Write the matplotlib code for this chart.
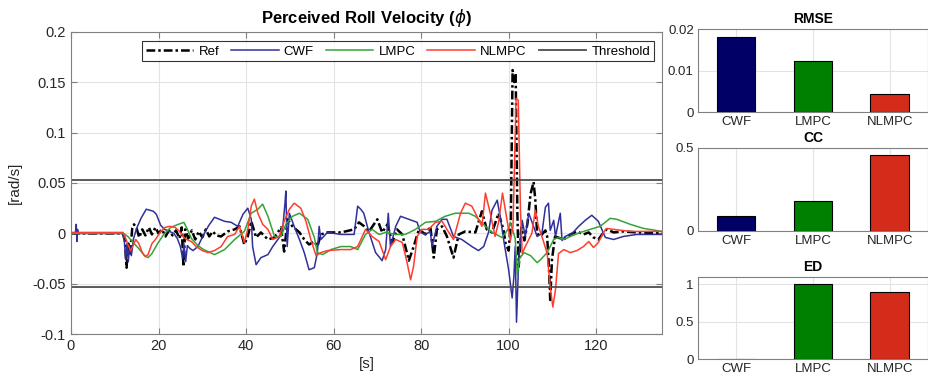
import numpy as np
import matplotlib
matplotlib.use("Agg")
import matplotlib.pyplot as plt

plt.rcParams['font.family'] = ['Liberation Sans', 'DejaVu Sans']

# time series: (time [s], value [rad/s])
ref_t = [0, 11.8, 12.3, 12.7, 13.1, 13.5, 14.0, 14.4, 15.0, 15.6, 16.3, 17.0, 17.8, 18.5, 19.3, 20.0,
         20.8, 21.6, 22.4, 23.2, 24.0, 24.8, 25.3, 25.7, 26.1, 26.8, 27.6, 28.4, 29.2, 30.0, 30.8, 31.6,
         32.4, 33.2, 34.3, 35.8, 37.4, 38.5, 39.6, 40.4, 41.2, 42.3, 43.4, 45.0, 46.5, 48.0, 48.7, 49.5,
         50.6, 52.2, 53.3, 54.4, 55.6, 56.3, 57.1, 58.6, 61.7, 64.7, 65.8, 67.0, 68.1, 70.0, 71.1, 72.3,
         73.4, 74.5, 75.7, 77.2, 78.3, 79.5, 81.0, 82.1, 82.9, 83.6, 84.8, 85.9, 87.4, 88.6, 90.1, 92.4,
         93.9, 95.0, 96.2, 97.7, 98.8, 99.3, 100.0, 100.5, 100.9, 101.3, 101.6, 102.0, 102.3, 102.9,
         103.6, 104.3, 105.0, 105.7, 106.1, 106.5, 107.2, 108.4, 108.8, 109.2, 109.5, 109.9, 110.6,
         112.6, 114.1, 115.6, 117.1, 118.3, 119.4, 120.5, 121.7, 122.4, 124.0, 126.2, 129.3, 135.0]
ref_v = [0, 0, -0.005, -0.034, -0.010, -0.020, 0.005, 0.009, 0.005, -0.004, 0.004, -0.002, 0.006, -0.001,
         0.006, 0.0, 0.004, -0.003, 0.003, -0.002, 0.003, -0.005, 0.006, -0.033, 0.004, -0.005, 0.003,
         -0.006, 0.002, -0.004, 0.004, -0.003, 0.002, -0.002, -0.003, 0.002, 0.004, 0.007, -0.011, -0.003,
         0.012, -0.004, 0.001, -0.006, -0.004, 0.006, -0.018, 0.014, 0.007, 0.001, -0.006, -0.011, -0.008,
         -0.013, -0.001, 0.001, 0.001, 0.004, 0.011, 0.007, 0.002, 0.014, 0.001, 0.009, -0.009, 0.004,
         -0.001, -0.027, -0.013, 0.004, -0.001, 0.007, -0.024, 0.004, 0.007, -0.003, -0.024, -0.001, 0.002,
         0.001, 0.022, 0.004, 0.001, 0.020, 0.004, -0.010, -0.017, 0.010, 0.162, 0.150, 0.159, 0.020,
         -0.033, 0.006, -0.007, 0.010, 0.039, 0.051, 0.033, 0.0, -0.003, 0.003, -0.003, -0.033, -0.066,
         -0.026, -0.003, -0.006, -0.001, 0.002, -0.001, 0.001, -0.004, -0.006, 0.001, 0.004, 0.001, 0.002,
         0.001, 0.0]

cwf_t = [0, 1.0, 1.2, 1.35, 1.5, 1.7, 11.8, 12.2, 12.5, 12.8, 13.1, 13.4, 13.8, 14.3, 15.0, 16.0, 17.2,
         18.0, 18.8, 19.5, 20.5, 21.4, 22.5, 23.5, 24.3, 25.0, 25.5, 25.8, 26.2, 26.6, 27.2, 27.9, 29.0,
         30.2, 31.5, 32.8, 35.1, 36.6, 38.1, 39.3, 40.4, 41.2, 41.5, 42.3, 43.4, 45.0, 46.1, 47.6, 48.4,
         48.9, 49.1, 49.4, 49.9, 51.0, 52.2, 53.3, 54.4, 55.6, 56.3, 56.7, 57.1, 58.6, 61.7, 64.7, 65.5,
         66.2, 66.9, 68.1, 69.6, 71.1, 71.9, 72.5, 73.0, 74.2, 75.3, 77.2, 79.1, 79.8, 81.0, 82.1, 82.5,
         83.6, 84.8, 85.9, 87.4, 89.3, 91.6, 93.1, 94.3, 95.4, 96.2, 97.4, 98.2, 99.0, 100.0, 100.8, 101.2,
         101.5, 101.8, 102.3, 103.1, 103.8, 104.6, 105.7, 106.5, 107.6, 108.4, 109.1, 109.5, 110.3, 110.7,
         111.8, 112.2, 112.9, 114.5, 116.0, 117.5, 119.0, 120.5, 121.3, 122.1, 124.0, 126.2, 129.3, 135.0]
cwf_v = [0, 0, 0.009, -0.008, 0.004, 0, 0, -0.008, -0.026, -0.010, -0.028, -0.012, -0.022, -0.005, 0.005,
         0.015, 0.024, 0.023, 0.022, 0.019, 0.008, 0.004, 0.002, 0.0, -0.005, -0.013, -0.025, -0.010,
         -0.028, -0.012, -0.015, -0.017, -0.013, -0.002, 0.008, 0.016, 0.012, 0.011, 0.007, 0.019, 0.025,
         0.014, -0.013, -0.031, -0.024, -0.021, -0.013, -0.004, 0.006, 0.030, 0.042, -0.013, 0.020, 0.007,
         -0.006, -0.019, -0.036, -0.034, -0.019, 0.007, -0.006, 0.001, -0.001, -0.001, 0.027, 0.024, 0.020,
         0.001, -0.019, -0.027, -0.016, 0.020, -0.013, 0.007, 0.017, 0.014, 0.011, 0.001, -0.001, 0.002,
         -0.013, 0.007, 0.014, 0.014, -0.003, -0.006, -0.013, -0.017, -0.013, 0.001, 0.023, 0.033, 0.013,
         -0.010, -0.036, -0.064, -0.043, -0.013, -0.088, -0.026, 0.013, -0.003, 0.020, 0.007, -0.003, 0.0,
         0.026, 0.030, 0.003, 0.013, -0.003, 0.020, -0.007, -0.003, 0.0, 0.007, 0.013, 0.018, 0.012, 0.004,
         -0.004, -0.006, -0.003, -0.001, -0.001]

lmpc_t = [0, 12.0, 13.0, 14.2, 15.5, 16.8, 17.6, 18.5, 19.8, 21.2, 22.8, 24.5, 25.8, 26.5, 27.5, 29.0,
          30.3, 31.8, 32.8, 35.1, 37.4, 39.6, 41.2, 42.7, 43.8, 45.0, 46.5, 48.0, 49.1, 50.6, 52.2, 54.1,
          55.6, 56.3, 57.5, 59.4, 61.7, 63.9, 65.5, 67.3, 68.8, 70.4, 71.9, 74.2, 76.4, 78.7, 81.0, 83.3,
          85.5, 87.8, 90.9, 92.4, 94.7, 96.2, 98.5, 100.0, 100.4, 101.5, 102.0, 102.5, 103.5, 105.0,
          106.5, 107.3, 108.8, 110.3, 111.4, 112.6, 114.1, 116.4, 118.6, 120.9, 123.2, 124.7, 127.8,
          130.8, 135.0]
lmpc_v = [0, 0, -0.003, -0.009, -0.015, -0.022, -0.024, -0.020, -0.010, -0.001, 0.006, 0.009, 0.011,
          0.005, -0.005, -0.012, -0.016, -0.019, -0.021, -0.016, -0.006, 0.002, 0.020, 0.024, 0.029, 0.017,
          -0.003, -0.003, 0.009, 0.017, 0.020, 0.014, -0.004, -0.019, -0.021, -0.016, -0.013, -0.013, -0.016,
          -0.001, 0.004, -0.001, 0.001, -0.001, -0.001, 0.004, 0.011, 0.012, 0.017, 0.020, 0.020, 0.017,
          0.007, 0.001, -0.004, 0.005, 0.011, -0.005, -0.041, -0.025, -0.019, -0.022, -0.029, -0.026,
          -0.019, -0.006, -0.004, -0.006, -0.003, 0.001, 0.004, 0.007, 0.015, 0.014, 0.009, 0.005, 0.002]

nlmpc_t = [0, 11.9, 12.5, 13.1, 13.6, 14.2, 14.8, 15.5, 16.3, 17.0, 17.6, 18.5, 19.3, 20.5, 21.5, 22.5,
           23.8, 24.8, 25.6, 26.4, 27.5, 28.6, 30.0, 31.3, 32.8, 34.3, 35.8, 37.4, 38.5, 39.6, 40.4, 41.2,
           41.9, 42.7, 43.8, 45.0, 46.1, 47.6, 48.7, 49.9, 51.0, 52.5, 53.7, 54.8, 56.0, 57.1, 58.6, 61.7,
           63.9, 65.5, 67.3, 68.8, 70.4, 71.9, 73.0, 74.2, 75.7, 76.8, 77.6, 78.3, 79.1, 80.2, 81.7, 83.3,
           84.8, 85.9, 87.4, 89.0, 90.1, 91.6, 93.1, 93.9, 94.7, 95.8, 96.9, 97.7, 98.6, 99.6, 100.4,
           101.0, 101.7, 102.2, 102.7, 103.1, 103.8, 105.3, 106.1, 106.8, 107.9, 108.8, 109.5, 110.1,
           110.7, 111.4, 112.6, 114.1, 115.6, 117.1, 118.3, 119.4, 120.5, 121.7, 122.4, 124.0, 127.8, 135.0]
nlmpc_v = [0.001, 0.001, -0.005, -0.012, -0.017, -0.012, -0.006, -0.010, -0.019, -0.023, -0.021, -0.010,
           -0.006, 0.002, 0.006, 0.007, 0.006, 0.002, -0.003, -0.006, -0.008, -0.013, -0.017, -0.019,
           -0.017, -0.013, -0.003, -0.001, 0.007, -0.009, 0.004, 0.027, 0.034, 0.020, 0.009, 0.004, -0.006,
           -0.003, 0.012, 0.024, 0.030, 0.025, 0.012, -0.006, -0.022, -0.019, -0.017, -0.016, -0.016, -0.013,
           0.004, -0.003, -0.008, -0.026, -0.013, -0.006, -0.009, -0.029, -0.046, -0.032, -0.003, 0.004,
           0.004, 0.011, 0.012, 0.004, -0.006, 0.020, 0.030, 0.027, 0.014, 0.007, 0.040, 0.020, -0.003,
           0.011, 0.040, 0.014, -0.007, 0.007, 0.134, 0.132, 0.023, -0.020, -0.013, 0.0, 0.023, 0.007,
           -0.007, -0.020, -0.053, -0.073, -0.056, -0.020, -0.016, -0.019, -0.017, -0.013, -0.008, -0.014,
           -0.009, 0.001, 0.005, 0.004, 0.002, 0.002]

threshold = 0.053

methods = ['CWF', 'LMPC', 'NLMPC']
rmse = [0.0180, 0.0124, 0.0044]
cc = [0.090, 0.180, 0.458]
ed = [0.0, 1.0, 0.9]

bar_colors = ['#000066', '#008000', '#d42c1a']
grid_c = '#e3e3e3'
spine_c = '#808080'
text_c = '#262626'

fig = plt.figure(figsize=(9.29, 3.82), dpi=100)

# main time series plot
ax = fig.add_axes([0.0764, 0.1249, 0.636, 0.7921])
ax.plot(ref_t, ref_v, color='black', linestyle=(0, (3.5, 1.2, 1.0, 1.2)), linewidth=1.8, label='Ref')
ax.plot(cwf_t, cwf_v, color='#30309a', linewidth=1.1, label='CWF')
ax.plot(lmpc_t, lmpc_v, color='#36a336', linewidth=1.1, label='LMPC')
ax.plot(nlmpc_t, nlmpc_v, color='#ff3d2e', linewidth=1.1, label='NLMPC')
ax.axhline(threshold, color='#4d4d4d', linewidth=1.3, label='Threshold')
ax.axhline(-threshold, color='#4d4d4d', linewidth=1.3)

ax.set_xlim(0, 135)
ax.set_ylim(-0.1, 0.2)
yt = [-0.1, -0.05, 0, 0.05, 0.1, 0.15, 0.2]
ax.set_yticks(yt)
ax.set_yticklabels(['-0.1', '-0.05', '0', '0.05', '0.1', '0.15', '0.2'])
ax.set_xticks([0, 20, 40, 60, 80, 100, 120])
ax.grid(True, color=grid_c, linewidth=0.8)
ax.set_axisbelow(True)
ax.tick_params(direction='in', length=4, colors=spine_c, labelcolor=text_c, labelsize=10.5,
               top=True, right=True)
for s in ax.spines.values():
    s.set_color(spine_c)
ax.set_xlabel('[s]', fontsize=11, color=text_c, labelpad=3)
ax.set_ylabel('[rad/s]', fontsize=11, color=text_c, labelpad=8)
ax.set_title(r'Perceived Roll Velocity ($\phi$)', fontsize=12, fontweight='bold', pad=6)
leg = ax.legend(loc='upper right', ncol=5, fontsize=9.5, frameon=True, fancybox=False,
                edgecolor='black', handlelength=3.6, columnspacing=0.9, handletextpad=0.4,
                borderpad=0.3, bbox_to_anchor=(0.998, 0.99))
leg.get_frame().set_linewidth(0.8)

# bar charts on the right
bar_specs = [
    ('RMSE', rmse, [0, 0.02], [0, 0.01, 0.02], ['0', '0.01', '0.02'], [0.7513, 0.7068, 0.2476, 0.2172]),
    ('CC', cc, [0, 0.5], [0, 0.5], ['0', '0.5'], [0.7513, 0.3953, 0.2476, 0.2173]),
    ('ED', ed, [0, 1.1], [0, 0.5, 1], ['0', '0.5', '1'], [0.7513, 0.0602, 0.2476, 0.2147]),
]
for title, vals, ylim, yticks, ylabels, pos in bar_specs:
    bx = fig.add_axes(pos)
    x = np.arange(1, len(methods) + 1)
    bx.bar(x, vals, width=0.5, color=bar_colors, edgecolor='black', linewidth=0.8, zorder=3)
    bx.set_xlim(0.5, 3.5)
    bx.set_ylim(*ylim)
    bx.set_xticks(x)
    bx.set_xticklabels(methods)
    bx.set_yticks(yticks)
    bx.set_yticklabels(ylabels)
    bx.grid(True, color=grid_c, linewidth=0.8, zorder=0)
    bx.set_axisbelow(True)
    bx.tick_params(direction='in', length=0, colors=spine_c, labelcolor=text_c, labelsize=9.5, pad=3)
    for s in bx.spines.values():
        s.set_color(spine_c)
    bx.set_title(title, fontsize=10, fontweight='bold', pad=4)

fig.savefig('out.png', dpi=100)
